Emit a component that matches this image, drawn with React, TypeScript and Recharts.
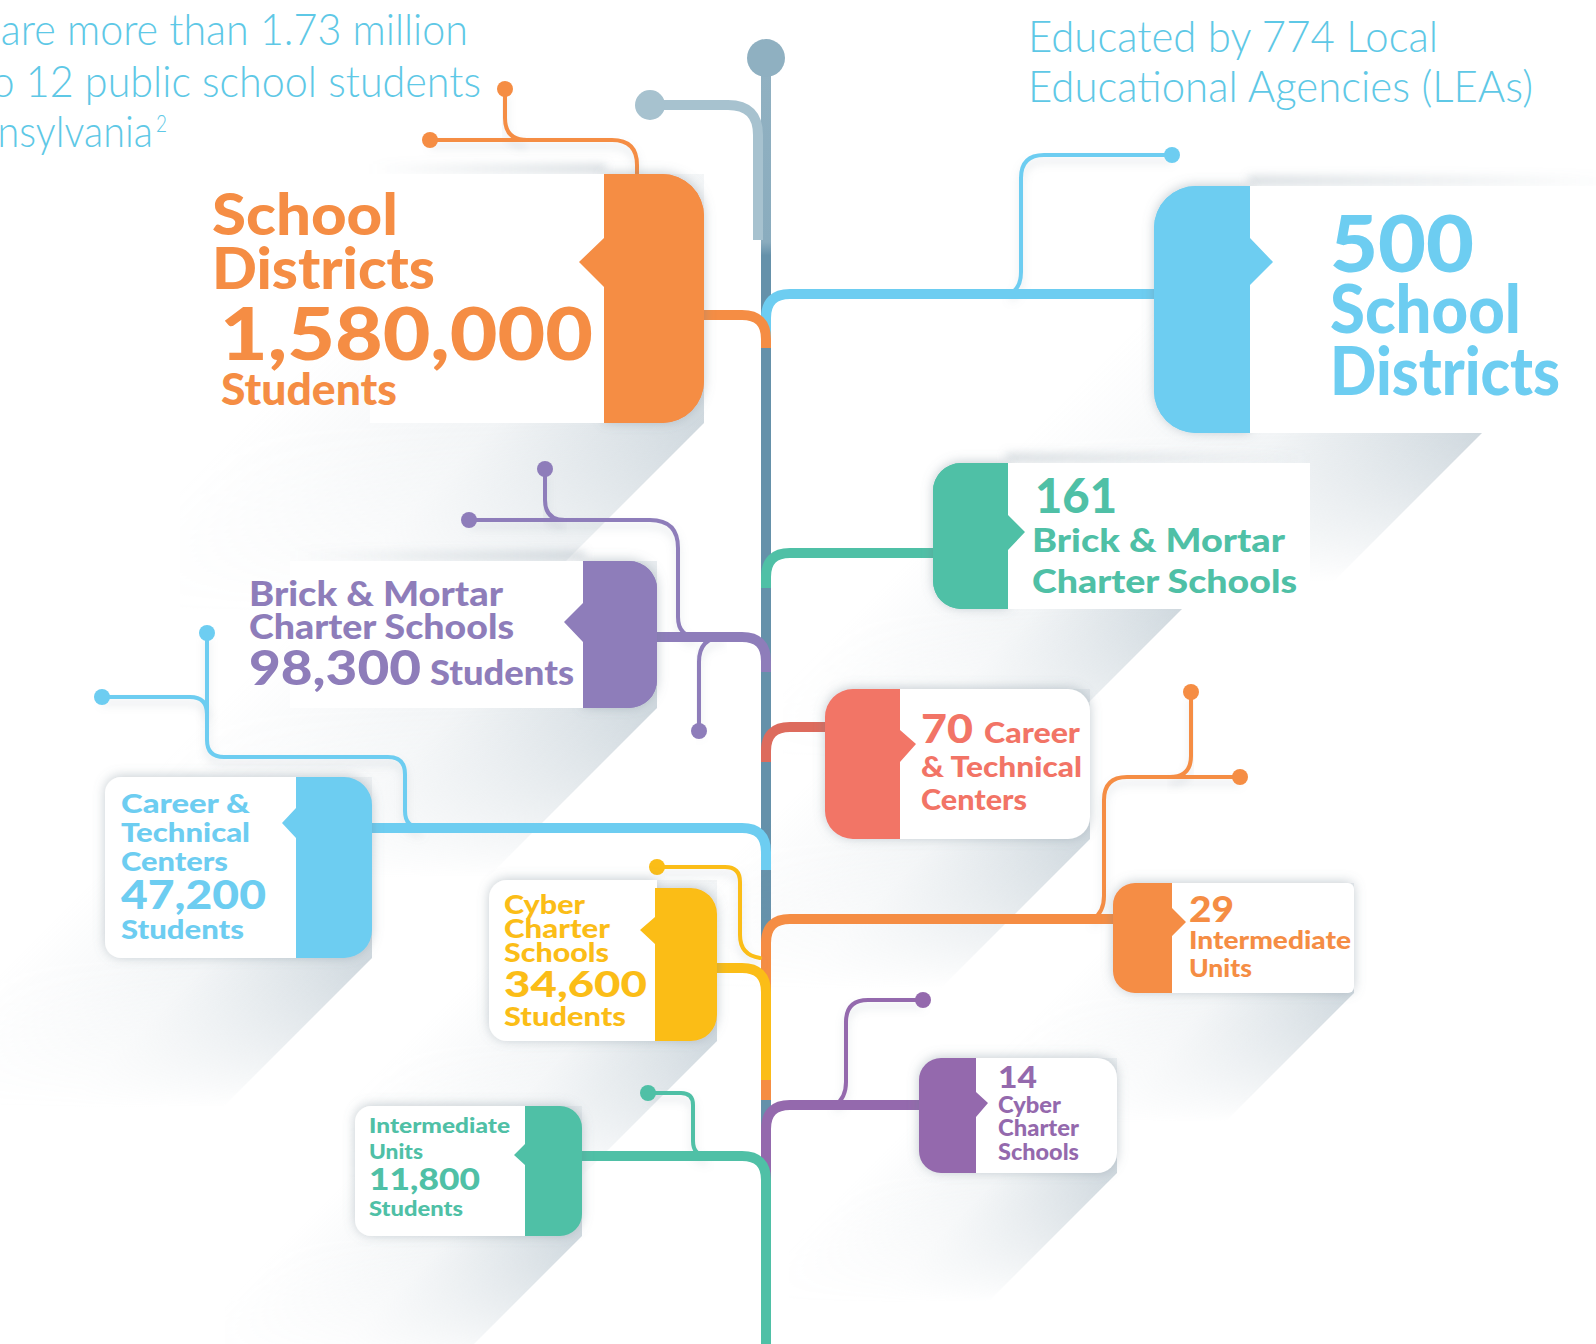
import { ScatterChart, Scatter, XAxis, YAxis } from 'recharts'

const W = 1596
const H = 1344
const TRUNK_X = 766
const FONT = "'Lato', 'Open Sans', sans-serif"

// ---- data ----
const leftCategories = [
  'School Districts',
  'Brick & Mortar Charter Schools',
  'Career & Technical Centers',
  'Cyber Charter Schools',
  'Intermediate Units',
]
const leftStudents = [1580000, 98300, 47200, 34600, 11800]
const leftLabelRuns = [
  ['School', 'Districts', '{n}', 'Students'],
  ['Brick & Mortar', 'Charter Schools', '{n}', 'Students'],
  ['Career &', 'Technical', 'Centers', '{n}', 'Students'],
  ['Cyber', 'Charter', 'Schools', '{n}', 'Students'],
  ['Intermediate', 'Units', '{n}', 'Students'],
]

const rightCategories = [
  'School Districts',
  'Brick & Mortar Charter Schools',
  'Career & Technical Centers',
  'Intermediate Units',
  'Cyber Charter Schools',
]
const rightCounts = [500, 161, 70, 29, 14]
const rightLabelRuns = [
  ['{n}', 'School', 'Districts'],
  ['{n}', 'Brick & Mortar', 'Charter Schools'],
  ['{n}', 'Career', '& Technical', 'Centers'],
  ['{n}', 'Intermediate', 'Units'],
  ['{n}', 'Cyber', 'Charter', 'Schools'],
]

const introLines = ['There are more than 1.73 million', 'K to 12 public school students', 'in Pennsylvania']
const introFootnote = '2'
const leaLines = ['Educated by 774 Local', 'Educational Agencies (LEAs)']

// ---- styles ----
const leftColors = ['#f58d44', '#8e7dba', '#6dcdf1', '#fbbd17', '#4fc0a6']
const rightColors = ['#6dcdf1', '#4fc0a6', '#f27466', '#f58d44', '#9469ad']
const rightLinkColors = ['#6dcdf1', '#4fc0a6', '#dd6b5d', '#f58d44', '#9469ad']
const INTRO_COLOR = '#5ec8e6'

// ---- layout (pixel space, used through the axis scales) ----
type Run = [number, number, number, number] // x, baseline, font size, width
type Layout = {
  tab: [number, number, number, number]
  white: [number, number, number, number]
  r: number
  wr: number
  soft: boolean
  notch: [number, number, number, number]
  runs: Run[]
  link: [number, number]
  deco: string[]
  dots: [number, number][]
  shadow: number
  sx1?: number
}

const leftLayout: Layout[] = [
  {
    tab: [604, 174, 704, 423], white: [370, 174, 606, 423], r: 42, wr: 0, soft: true,
    notch: [579, 262, 238, 287],
    runs: [[212, 235, 58, 186], [212, 289, 58, 223], [220, 360, 72, 373], [221, 405, 44, 176]],
    link: [315, 348],
    deco: ['M430,140 H612 Q637,140 637,165 V178', 'M505,89 V118 Q505,140 527,140'],
    dots: [[430, 140], [505, 89]],
    shadow: 190,
  },
  {
    tab: [583, 561, 657, 708], white: [290, 561, 585, 708], r: 28, wr: 0, soft: true,
    notch: [564, 622, 603, 642],
    runs: [[249, 606, 34, 254], [249, 639, 34, 265], [249, 685, 48, 172], [430, 685, 34, 144]],
    link: [637, 672],
    deco: [
      'M469,520 H650 Q678,520 678,548 V617 Q678,637 698,637',
      'M545,469 V500 Q545,520 565,520',
      'M724,637 Q699,637 699,662 V731',
    ],
    dots: [[469, 520], [545, 469], [699, 731]],
    shadow: 170,
  },
  {
    tab: [296, 777, 372, 958], white: [105, 777, 298, 958], r: 28, wr: 16, soft: false,
    notch: [282, 823, 808, 838],
    runs: [[121, 813, 27, 129], [121, 842, 27, 129], [121, 871, 27, 107], [121, 909, 40, 145], [121, 939, 27, 123]],
    link: [828, 870],
    deco: [
      'M207,633 V740 Q207,757 224,757 H388 Q405,757 405,774 V811 Q405,828 422,828',
      'M102,697 H190 Q207,697 207,714',
    ],
    dots: [[207, 633], [102, 697]],
    shadow: 150,
  },
  {
    tab: [655, 888, 717, 1041], white: [489, 880, 657, 1041], r: 26, wr: 18, soft: false,
    notch: [640, 930, 917, 944],
    runs: [[504, 914, 26, 81], [504, 938, 26, 106], [504, 962, 26, 105], [504, 997, 36, 143], [504, 1026, 26, 122]],
    link: [968, 1080],
    deco: ['M657,867 H725 Q740,867 740,882 V935 Q740,955 760,958'],
    dots: [[657, 867]],
    shadow: 140,
  },
  {
    tab: [525, 1106, 582, 1236], white: [355, 1106, 527, 1236], r: 22, wr: 16, soft: false,
    notch: [514, 1155, 1144, 1165],
    runs: [[369, 1133, 21, 141], [369, 1159, 21, 54], [369, 1190, 30, 111], [369, 1216, 21, 94]],
    link: [1156, 1344],
    deco: ['M648,1093 H681 Q693,1093 693,1105 V1141 Q693,1156 708,1156'],
    dots: [[648, 1093]],
    shadow: 130,
  },
]

const rightLayout: Layout[] = [
  {
    tab: [1154, 186, 1250, 433], white: [1248, 186, 1620, 433], r: 42, wr: 0, soft: true,
    notch: [1273, 262, 238, 285],
    runs: [[1330, 272, 78, 144], [1330, 333, 66, 191], [1330, 395, 66, 230]],
    link: [294, 340],
    deco: ['M1010,294 Q1021,288 1021,272 V178 Q1021,155 1044,155 H1172'],
    dots: [[1172, 155]],
    shadow: 150,
    sx1: 1482,
  },
  {
    tab: [933, 463, 1008, 609], white: [1006, 463, 1310, 609], r: 28, wr: 0, soft: true,
    notch: [1025, 532, 515, 550],
    runs: [[1035, 513, 47, 82], [1032, 552, 33, 253], [1032, 593, 33, 265]],
    link: [553, 588],
    deco: [],
    dots: [],
    shadow: 150,
    sx1: 1182,
  },
  {
    tab: [825, 689, 900, 839], white: [898, 689, 1090, 839], r: 28, wr: 22, soft: false,
    notch: [916, 744, 730, 762],
    runs: [[921, 743, 40, 52], [984, 743, 29, 96], [921, 777, 29, 161], [921, 810, 29, 106]],
    link: [727, 762],
    deco: [],
    dots: [],
    shadow: 150,
  },
  {
    tab: [1113, 883, 1172, 993], white: [1170, 883, 1354, 993], r: 22, wr: 6, soft: false,
    notch: [1186, 922, 908, 936],
    runs: [[1189, 922, 36, 45], [1189, 949, 24, 162], [1189, 977, 24, 63]],
    link: [919, 1100],
    deco: [
      'M1093,919 Q1104,912 1104,896 V800 Q1104,777 1127,777 H1240',
      'M1170,777 Q1191,777 1191,756 V692',
    ],
    dots: [[1240, 777], [1191, 692]],
    shadow: 130,
  },
  {
    tab: [919, 1058, 976, 1173], white: [974, 1058, 1117, 1173], r: 22, wr: 20, soft: false,
    notch: [988, 1103, 1092, 1117],
    runs: [[998, 1088, 31, 39], [998, 1113, 22, 63], [998, 1136, 22, 81], [998, 1160, 22, 81]],
    link: [1105, 1190],
    deco: ['M835,1105 Q846,1098 846,1082 V1022 Q846,1000 868,1000 H923'],
    dots: [[923, 1000]],
    shadow: 130,
  },
]

const introLayout: Run[] = [[-113, 45, 44, 581], [-60, 97, 44, 541], [-108, 147, 44, 261]]
const footnoteLayout: Run = [156, 132, 24, 11]
const leaLayout: Run[] = [[1028, 52, 44, 410], [1028, 102, 44, 505]]

const fmt = (n: number) => n.toLocaleString('en-US')

const cardData = [
  ...leftCategories.map((category, i) => ({
    ...leftLayout[i],
    idx: i, category, value: leftStudents[i], words: leftLabelRuns[i], side: 'left',
    color: leftColors[i], linkColor: leftColors[i],
    x: leftLayout[i].tab[0], y: leftLayout[i].tab[1],
  })),
  ...rightCategories.map((category, i) => ({
    ...rightLayout[i],
    idx: i, category, value: rightCounts[i], words: rightLabelRuns[i], side: 'right',
    color: rightColors[i], linkColor: rightLinkColors[i],
    x: rightLayout[i].tab[0], y: rightLayout[i].tab[1],
  })),
]
const linksByDepth = [...cardData].sort((a, b) => a.link[0] - b.link[0])

const trunkData = [{ x: TRUNK_X, y: 58, knob: true }, { x: TRUNK_X, y: H, knob: false }]

const notes = [
  {
    x: introLayout[0][0], y: introLayout[0][1], weight: 300,
    lines: [
      ...introLines.map((t, i) => ({ t, run: introLayout[i] })),
      { t: introFootnote, run: footnoteLayout },
    ],
  },
  {
    x: leaLayout[0][0], y: leaLayout[0][1], weight: 300,
    lines: leaLines.map((t, i) => ({ t, run: leaLayout[i] })),
  },
]

// long 45 degree shadow falling down-left from each card
function ShadowShape(props: any) {
  const { cx, cy, payload: p } = props
  if (cx == null || cy == null) return null
  const x0 = Math.min(p.white[0], p.tab[0])
  const x1 = p.sx1 ?? Math.max(p.white[2], p.tab[2])
  const y0 = Math.min(p.white[1], p.tab[1])
  const y1 = Math.max(p.white[3], p.tab[3])
  const L = p.shadow
  const id = `sh-${p.side}-${p.idx}`
  // gradient runs across the shadow (along x + y), darkest at its right edge
  const s0 = x0 + y1 - 0.5 * (y1 - y0)
  const s1 = x1 + y1
  const hull = `M${x0},${y0} L${x1},${y0} L${x1},${y1} L${x1 - L},${y1 + L} L${x0 - L},${y1 + L} L${x0 - L},${y0 + L} Z`
  const bx = x0 - L - 10
  const bw = x1 - x0 + L + 20
  return (
    <g transform={`translate(${cx - p.x},${cy - p.y})`}>
      <defs>
        <linearGradient id={`${id}g`} gradientUnits="userSpaceOnUse" x1={s0 / 2} y1={s0 / 2} x2={s1 / 2} y2={s1 / 2}>
          <stop offset="0" stopColor="#9fb1bd" stopOpacity={0} />
          <stop offset="0.55" stopColor="#9fb1bd" stopOpacity={0.14} />
          <stop offset="1" stopColor="#9fb1bd" stopOpacity={0.5} />
        </linearGradient>
        <linearGradient id={`${id}f`} gradientUnits="userSpaceOnUse" x1={0} y1={y1} x2={0} y2={y1 + L}>
          <stop offset="0" stopColor="#ffffff" />
          <stop offset="1" stopColor="#000000" />
        </linearGradient>
        <mask id={`${id}m`} maskUnits="userSpaceOnUse" x={bx} y={y0 - 10} width={bw} height={y1 - y0 + L + 20}>
          <rect x={bx} y={y0 - 10} width={bw} height={y1 - y0 + 10} fill="#ffffff" />
          <rect x={bx} y={y1} width={bw} height={L + 10} fill={`url(#${id}f)`} />
        </mask>
      </defs>
      <path d={hull} fill={`url(#${id}g)`} mask={`url(#${id}m)`} />
    </g>
  )
}

function TrunkShape(props: any) {
  const { cx, cy, payload } = props
  if (cx == null || cy == null) return null
  return (
    <g>
      <defs>
        <linearGradient id="trunkGrad" gradientUnits="userSpaceOnUse" x1="0" y1="0" x2="0" y2={H}>
          <stop offset="0" stopColor="#94b3c3" />
          <stop offset="0.18" stopColor="#8aacbe" />
          <stop offset="0.19" stopColor="#6591aa" />
          <stop offset="1" stopColor="#6591aa" />
        </linearGradient>
        <linearGradient id="bandL" x1="0" y1="0" x2="1" y2="0">
          <stop offset="0" stopColor="#8a9aa5" stopOpacity={0} />
          <stop offset="1" stopColor="#8a9aa5" stopOpacity={0.35} />
        </linearGradient>
        <linearGradient id="bandR" x1="0" y1="0" x2="1" y2="0">
          <stop offset="0" stopColor="#8a9aa5" stopOpacity={0.35} />
          <stop offset="1" stopColor="#8a9aa5" stopOpacity={0} />
        </linearGradient>
        <filter id="cardShadow" x="-20%" y="-20%" width="140%" height="140%">
          <feDropShadow dx="0" dy="-1" stdDeviation="6" floodColor="#6f808c" floodOpacity="0.4" />
        </filter>
        <filter id="softBlur" x="-10%" y="-200%" width="120%" height="500%">
          <feGaussianBlur stdDeviation="5" />
        </filter>
        <filter id="lineShadow" x="-10%" y="-50%" width="120%" height="300%">
          <feGaussianBlur stdDeviation="4" />
        </filter>
      </defs>
      {payload.knob && (
        <g transform={`translate(${cx - payload.x},${cy - payload.y})`}>
          <path d="M650,105 H728 Q758,105 758,135 V240" stroke="#a7c2cf" strokeWidth={10} fill="none" />
          <circle cx={650} cy={105} r={15} fill="#a7c2cf" />
          <circle cx={TRUNK_X} cy={58} r={19} fill="#8fb0c1" />
        </g>
      )}
    </g>
  )
}

function LinkShape(props: any) {
  const { cx, cy, payload: p } = props
  if (cx == null || cy == null) return null
  const [ly, tail] = p.link
  const R = 24
  const d =
    p.side === 'left'
      ? `M${p.tab[2] - 4},${ly} H${TRUNK_X - R} Q${TRUNK_X},${ly} ${TRUNK_X},${ly + R} V${tail}`
      : `M${p.tab[0] + 4},${ly} H${TRUNK_X + R} Q${TRUNK_X},${ly} ${TRUNK_X},${ly + R} V${tail}`
  const hx0 = p.side === 'left' ? p.tab[2] : TRUNK_X + 10
  const hx1 = p.side === 'left' ? TRUNK_X - 10 : p.tab[0]
  return (
    <g transform={`translate(${cx - p.x},${cy - p.y})`}>
      <path d={`M${hx0},${ly + 9} H${hx1}`} stroke="#8b9ba6" strokeOpacity={0.35} strokeWidth={8} filter="url(#lineShadow)" />
      {p.deco.map((dd: string, i: number) => (
        <path key={`s${i}`} d={dd} transform="translate(0,6)" stroke="#8b9ba6" strokeOpacity={0.25} strokeWidth={4} fill="none" filter="url(#lineShadow)" />
      ))}
      {p.deco.map((dd: string, i: number) => (
        <path key={i} d={dd} stroke={p.linkColor} strokeWidth={4} fill="none" strokeLinecap="round" />
      ))}
      {p.dots.map(([x, y]: [number, number], i: number) => (
        <circle key={i} cx={x} cy={y} r={8} fill={p.linkColor} />
      ))}
      <path d={d} stroke={p.linkColor} strokeWidth={10} fill="none" />
    </g>
  )
}

function CardShape(props: any) {
  const { cx, cy, payload: p } = props
  if (cx == null || cy == null) return null
  const [tx0, ty0, tx1, ty1] = p.tab
  const [wx0, wy0, wx1, wy1] = p.white
  const [ntx, nty, nb0, nb1] = p.notch
  const r = p.r
  const wr = p.wr
  let tabPath: string
  let whitePath: string
  if (p.side === 'left') {
    tabPath = `M${tx0},${ty0} H${tx1 - r} A${r},${r} 0 0 1 ${tx1},${ty0 + r} V${ty1 - r} A${r},${r} 0 0 1 ${tx1 - r},${ty1} H${tx0} V${nb1} L${ntx},${nty} L${tx0},${nb0} Z`
    whitePath = `M${wx0 + wr},${wy0} H${wx1} V${wy1} H${wx0 + wr} A${wr},${wr} 0 0 1 ${wx0},${wy1 - wr} V${wy0 + wr} A${wr},${wr} 0 0 1 ${wx0 + wr},${wy0} Z`
  } else {
    tabPath = `M${tx1},${ty0} V${nb0} L${ntx},${nty} L${tx1},${nb1} V${ty1} H${tx0 + r} A${r},${r} 0 0 1 ${tx0},${ty1 - r} V${ty0 + r} A${r},${r} 0 0 1 ${tx0 + r},${ty0} Z`
    whitePath = `M${wx0},${wy0} H${wx1 - wr} A${wr},${wr} 0 0 1 ${wx1},${wy0 + wr} V${wy1 - wr} A${wr},${wr} 0 0 1 ${wx1 - wr},${wy1} H${wx0} Z`
  }
  return (
    <g transform={`translate(${cx - p.x},${cy - p.y})`}>
      {p.soft ? (
        <g>
          <rect
            x={wx0}
            y={wy0 - 10}
            width={wx1 - wx0}
            height={10}
            fill={p.side === 'left' ? 'url(#bandL)' : 'url(#bandR)'}
            filter="url(#softBlur)"
          />
          <g filter="url(#cardShadow)">
            <path d={tabPath} fill={p.color} />
          </g>
          <path d={whitePath} fill="#ffffff" />
          <path d={tabPath} fill={p.color} />
        </g>
      ) : (
        <g filter="url(#cardShadow)">
          <path d={whitePath} fill="#ffffff" />
          <path d={tabPath} fill={p.color} />
        </g>
      )}
      {p.words.map((t: string, i: number) => {
        const [x, y, size, w] = p.runs[i]
        return (
          <text
            key={i}
            x={x}
            y={y}
            fontSize={size}
            fontFamily={FONT}
            fontWeight={900}
            fill={p.color}
            textLength={w}
            lengthAdjust="spacingAndGlyphs"
          >
            {t === '{n}' ? fmt(p.value) : t}
          </text>
        )
      })}
    </g>
  )
}

function NoteShape(props: any) {
  const { cx, cy, payload: p } = props
  if (cx == null || cy == null) return null
  return (
    <g transform={`translate(${cx - p.x},${cy - p.y})`}>
      {p.lines.map((l: { t: string; run: Run }, i: number) => (
        <text
          key={i}
          x={l.run[0]}
          y={l.run[1]}
          fontSize={l.run[2]}
          fontFamily={FONT}
          fontWeight={p.weight}
          fill={INTRO_COLOR}
          textLength={l.run[3]}
          lengthAdjust="spacingAndGlyphs"
        >
          {l.t}
        </text>
      ))}
    </g>
  )
}

export default function App() {
  return (
    <div style={{ position: 'absolute', left: 0, top: 0, width: W, height: H, background: '#ffffff' }}>
      <ScatterChart width={W} height={H} margin={{ top: 0, right: 0, bottom: 0, left: 0 }}>
        <XAxis type="number" dataKey="x" domain={[0, W]} hide allowDataOverflow />
        <YAxis type="number" dataKey="y" domain={[0, H]} reversed hide allowDataOverflow />
        <Scatter data={trunkData} isAnimationActive={false} line={{ stroke: 'url(#trunkGrad)', strokeWidth: 10 }} shape={(p: any) => <TrunkShape {...p} />} />
        <Scatter data={cardData} isAnimationActive={false} shape={(p: any) => <ShadowShape {...p} />} />
        <Scatter data={linksByDepth} isAnimationActive={false} shape={(p: any) => <LinkShape {...p} />} />
        <Scatter data={cardData} isAnimationActive={false} shape={(p: any) => <CardShape {...p} />} />
        <Scatter data={notes} isAnimationActive={false} shape={(p: any) => <NoteShape {...p} />} />
      </ScatterChart>
    </div>
  )
}
